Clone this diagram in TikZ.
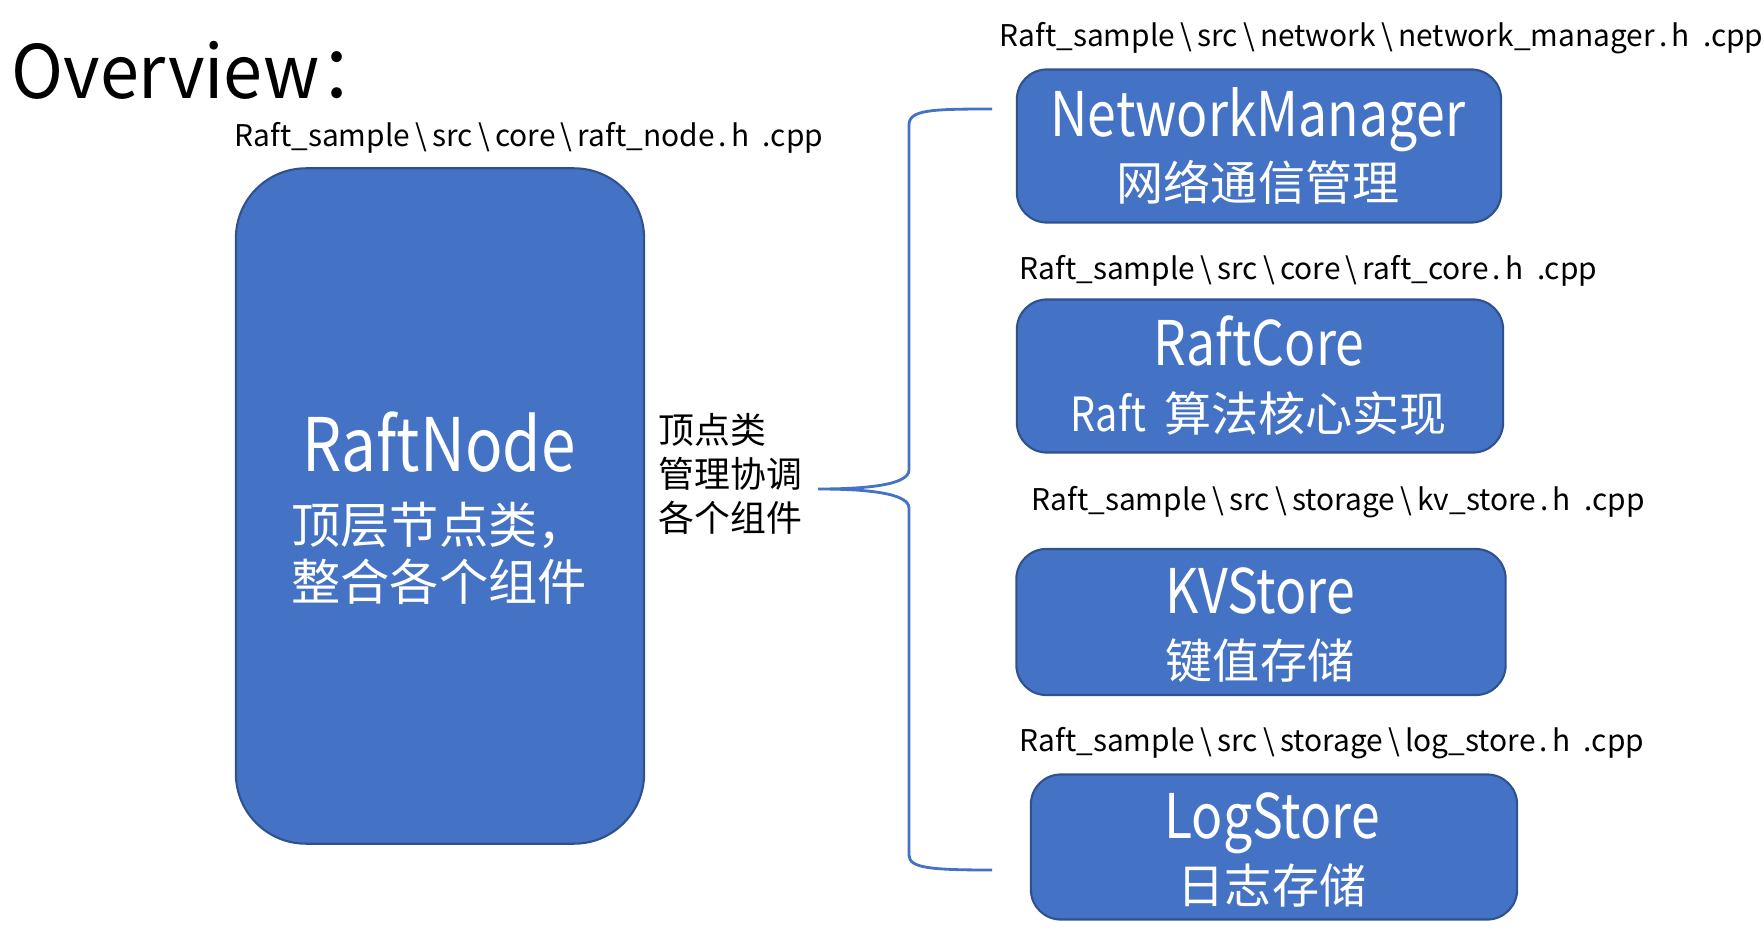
\documentclass[tikz,border=0pt]{standalone}
\usepackage{fontspec}
\setmainfont{Noto Sans CJK SC}
\newfontfamily\slim{Noto Sans CJK SC}[FakeStretch=0.84]
\newfontfamily\ttl{Noto Sans CJK SC}[FakeStretch=0.95]
\usepackage{tikz}
\usetikzlibrary{positioning}
\definecolor{bx}{HTML}{4472C4}
\definecolor{bd}{HTML}{2F528F}
\newcommand{\bs}{\kern1.5pt\textbackslash\kern1.5pt}
\newcommand{\dt}{\kern1.2pt.\kern1.2pt}

\begin{document}
\begin{tikzpicture}[x=0.01cm,y=-0.01cm]
  \tikzstyle{every node}=[inner sep=0pt]
  \tikzstyle{box}=[draw=bd,fill=bx,line width=0.6pt,rounded corners=0.3cm]
  \tikzstyle{src}=[anchor=base west,font=\fontsize{8.5}{10}\selectfont]
  \tikzstyle{big}=[anchor=base,text=white,font=\slim\fontsize{17.5}{20}\selectfont]
  \tikzstyle{small}=[anchor=base,text=white,font=\fontsize{13.4}{16}\selectfont]
  \useasboundingbox (0,0) rectangle (1764,940);
  \node[anchor=base west,font=\ttl\fontsize{21}{24}\selectfont] (title) at (11,99) {Overview：};
  % left: top node
  \node[src] (rnsrc) at (234,147) {Raft\_sample\bs src\bs core\bs raft\_node\dt h \ .cpp};
  \node[box,rounded corners=0.7cm,minimum width=4.08cm,minimum height=6.75cm] (raftnode) at (440,506) {};
  \node[big,font=\slim\fontsize{21}{24}\selectfont] (rnname) at (439,471) {RaftNode};
  \node[small,font=\fontsize{14}{16}\selectfont] (rntxt1) at (439,543) {顶层节点类，};
  \node[small,font=\fontsize{14}{16}\selectfont] (rntxt2) at (439,600) {整合各个组件};
  \node[anchor=west,align=left,font=\fontsize{10.2}{12.4}\selectfont] (mid) at (658,474) {顶点类\\管理协调\\各个组件};
  % right: components
  \node[src] (nmsrc) at (999,47) {Raft\_sample\bs src\bs network\bs network\_manager\dt h \ .cpp};
  \node[box,minimum width=4.84cm,minimum height=1.53cm] (nm) at (1259,146) {};
  \node[big] (nmname) at (1258,137) {NetworkManager};
  \node[small] (nmtxt) at (1258,201) {网络通信管理};
  \node[src] (rcsrc) at (1019,280) {Raft\_sample\bs src\bs core\bs raft\_core\dt h \ .cpp};
  \node[box,minimum width=4.86cm,minimum height=1.53cm] (rc) at (1260,376) {};
  \node[big] (rcname) at (1259,366) {RaftCore};
  \node[small] (rctxt) at (1259,432) {{\slim Raft} \,算法核心实现};
  \node[src] (kvsrc) at (1031,510) {Raft\_sample\bs src\bs storage\bs kv\_store\dt h \ .cpp};
  \node[box,minimum width=4.89cm,minimum height=1.46cm] (kv) at (1261,622) {};
  \node[big] (kvname) at (1260,613) {KVStore};
  \node[small] (kvtxt) at (1260,678) {键值存储};
  \node[src] (lssrc) at (1019,751) {Raft\_sample\bs src\bs storage\bs log\_store\dt h \ .cpp};
  \node[box,minimum width=4.86cm,minimum height=1.45cm] (ls) at (1274,847) {};
  \node[big] (lsname) at (1272,838) {LogStore};
  \node[small] (lstxt) at (1272,903) {日志存储};
  % brace
  \coordinate (tip) at (818,489);
  \coordinate (bracetop) at (992,109);
  \coordinate (bracebot) at (992,870);
  \draw[bx,line width=0.8pt] (bracetop) .. controls (930,109) and (909,110) .. (909,125) -- (909,470)
    .. controls (909,486) and (860,489) .. (tip)
    .. controls (860,489) and (909,492) .. (909,508) -- (909,855)
    .. controls (909,868) and (930,870) .. (bracebot);
\end{tikzpicture}
\end{document}
